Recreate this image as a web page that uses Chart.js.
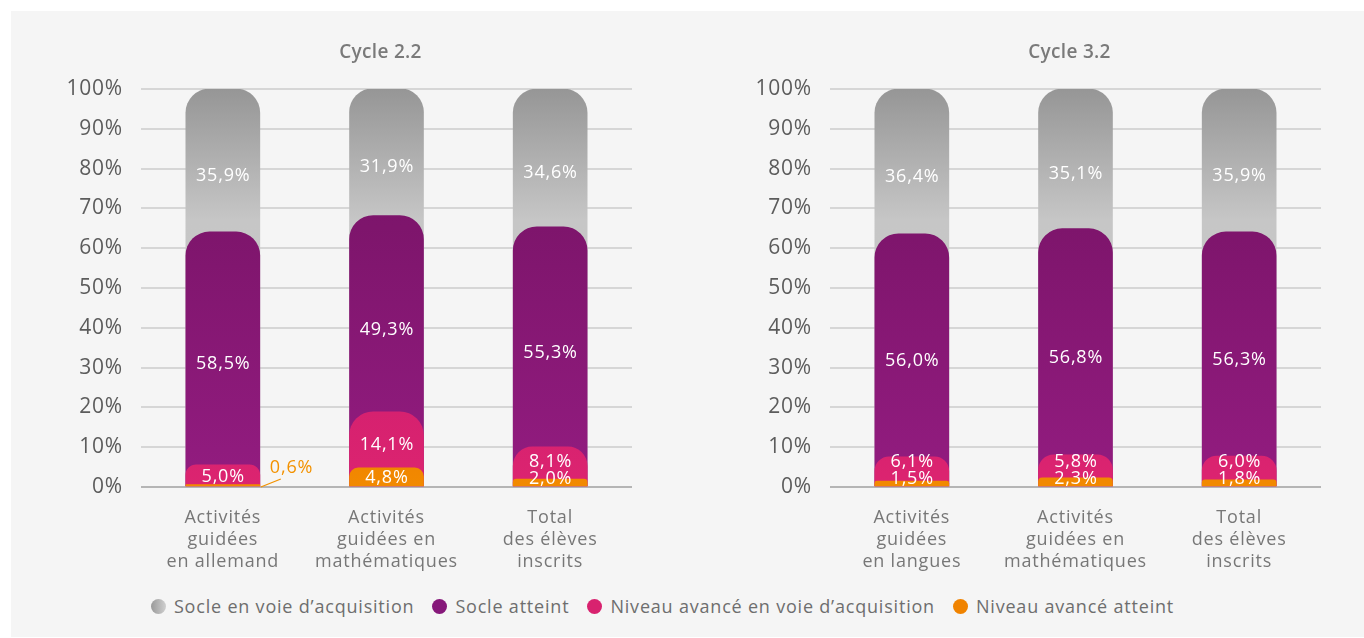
<!DOCTYPE html>
<html>
<head>
<meta charset="utf-8">
<script src="https://cdn.jsdelivr.net/npm/chart.js@4.4.1/dist/chart.umd.min.js"></script>
<style>
  html, body { margin: 0; padding: 0; background: #ffffff; width: 1364px; height: 638px; overflow: hidden; font-family: "Open Sans", Lato, sans-serif; }
  #panel { position: absolute; left: 11px; top: 11px; width: 1353px; height: 626px; background: #f5f5f5; }
  #c1 { position: absolute; left: 0; top: 0; }
  #c2 { position: absolute; left: 689px; top: 0; }
  #legend { position: absolute; left: 0; top: 594px; width: 1325px; display: flex; justify-content: center; align-items: center; font-size: 18px; letter-spacing: 0.8px; color: #6e6e6e; }
  .item { display: flex; align-items: center; margin: 0 9px; }
  .dot { width: 15px; height: 15px; border-radius: 50%; margin-right: 8px; }
</style>
</head>
<body>
<div id="panel"></div>
<canvas id="c1" width="689" height="590"></canvas>
<canvas id="c2" width="675" height="590"></canvas>
<div id="legend"></div>
<script>
// ---- Data ----
const seriesNames = ['Socle en voie d’acquisition', 'Socle atteint', 'Niveau avancé en voie d’acquisition', 'Niveau avancé atteint'];
const cycle22Title = 'Cycle 2.2';
const cycle32Title = 'Cycle 3.2';
const cycle22Categories = [['Activités', 'guidées', 'en allemand'], ['Activités', 'guidées en', 'mathématiques'], ['Total', 'des élèves', 'inscrits']];
const cycle32Categories = [['Activités', 'guidées', 'en langues'], ['Activités', 'guidées en', 'mathématiques'], ['Total', 'des élèves', 'inscrits']];
const c22SocleEnVoie = [35.9, 31.9, 34.6];
const c22SocleAtteint = [58.5, 49.3, 55.3];
const c22AvanceEnVoie = [5.0, 14.1, 8.1];
const c22AvanceAtteint = [0.6, 4.8, 2.0];
const c32SocleEnVoie = [36.4, 35.1, 35.9];
const c32SocleAtteint = [56.0, 56.8, 56.3];
const c32AvanceEnVoie = [6.1, 5.8, 6.0];
const c32AvanceAtteint = [1.5, 2.3, 1.8];
const yTickValues = [0, 10, 20, 30, 40, 50, 60, 70, 80, 90, 100];

// ---- Styling ----
const FONT = '"Open Sans", Lato, sans-serif';
const legendColors = [
  'linear-gradient(90deg, #9a9a9a, #cfcfcf)',
  '#86187a',
  '#d8226f',
  '#f08300'
];

function gradFor(chart, kind) {
  const a = chart.chartArea;
  if (!a) return '#999';
  const c = chart.ctx;
  const h = a.bottom - a.top;
  let g;
  if (kind === 'gray') {
    g = c.createLinearGradient(0, a.top, 0, a.bottom);
    g.addColorStop(0, '#969696');
    g.addColorStop(0.33, '#c6c6c6');
    g.addColorStop(1, '#c8c8c8');
  } else if (kind === 'purple') {
    g = c.createLinearGradient(0, a.top, 0, a.bottom);
    g.addColorStop(0, '#78136a');
    g.addColorStop(0.35, '#7e156c');
    g.addColorStop(1, '#931c80');
  } else if (kind === 'pink') {
    g = c.createLinearGradient(0, a.top + h * 0.75, 0, a.bottom);
    g.addColorStop(0, '#d4206f');
    g.addColorStop(1, '#dc2470');
  } else {
    g = c.createLinearGradient(0, a.top + h * 0.85, 0, a.bottom);
    g.addColorStop(0, '#ee7f00');
    g.addColorStop(1, '#f28a00');
  }
  return g;
}

function fmt(v) { return v.toFixed(1).replace('.', ',') + '%'; }

function cumulate(parts) { // parts bottom-up
  const out = [];
  let run = parts[0].map(() => 0);
  parts.forEach(p => { run = run.map((r, i) => r + p[i]); out.push(run.slice()); });
  return out;
}

const spacingPlugin = {
  id: 'spacing',
  beforeDraw(chart) { chart.ctx.letterSpacing = '0.8px'; }
};

const segLabelPlugin = {
  id: 'segLabels',
  afterDatasetsDraw(chart) {
    const parts = chart.options.plugins.segLabels.parts; // bottom-up: orange, pink, purple, gray
    const ys = chart.scales.y;
    const zero = ys.getPixelForValue(0);
    const ctx = chart.ctx;
    const offsets = [0, 5, 16, 15];
    ctx.save();
    ctx.letterSpacing = '0.8px';
    ctx.font = '18px ' + FONT;
    ctx.textAlign = 'center';
    ctx.textBaseline = 'middle';
    chart.data.labels.forEach((_, i) => {
      const bar = chart.getDatasetMeta(0).data[i];
      const x = bar.x + 0.4;
      const right = bar.x + bar.width / 2;
      let lower = 0;
      let orangeY = null;
      parts.forEach((arr, k) => {
        const v = arr[i];
        const upper = lower + v;
        let y = ys.getPixelForValue((lower + upper) / 2) + offsets[k];
        if (k === 0) {
          if (v < 1) {
            ctx.strokeStyle = '#f39200';
            ctx.lineWidth = 1.3;
            ctx.beginPath();
            ctx.moveTo(right + 1, zero);
            ctx.lineTo(right + 21, zero - 8);
            ctx.stroke();
            ctx.fillStyle = '#f39200';
            ctx.textAlign = 'left';
            ctx.fillText(fmt(v), right + 10, zero - 19);
            ctx.textAlign = 'center';
          } else {
            y = Math.min(y, zero - 8);
            orangeY = y;
            ctx.fillStyle = '#ffffff';
            ctx.fillText(fmt(v), x, y);
          }
        } else {
          if (k === 1) {
            y = Math.min(y, zero - 10);
            if (orangeY !== null) y = Math.min(y, orangeY - 17);
          }
          ctx.fillStyle = '#ffffff';
          ctx.fillText(fmt(v), x, y);
        }
        lower = upper;
      });
    });
    ctx.restore();
  }
};

const titlePlugin = {
  id: 'centerTitle',
  afterDraw(chart) {
    const a = chart.chartArea;
    const ctx = chart.ctx;
    ctx.save();
    ctx.letterSpacing = '0.3px';
    ctx.font = '600 19px ' + FONT;
    ctx.fillStyle = '#7a7a7a';
    ctx.textAlign = 'center';
    ctx.textBaseline = 'middle';
    ctx.fillText(chart.options.plugins.centerTitle.text, (a.left + a.right) / 2 - 6, 53);
    ctx.restore();
  }
};

function makeChart(canvasId, title, categories, socleEnVoie, socleAtteint, avanceEnVoie, avanceAtteint, padRight) {
  const bottomUp = [avanceAtteint, avanceEnVoie, socleAtteint, socleEnVoie];
  const cum = cumulate(bottomUp);
  const kinds = ['orange', 'pink', 'purple', 'gray'];
  const names = [seriesNames[3], seriesNames[2], seriesNames[1], seriesNames[0]];
  const datasets = cum.map((d, k) => ({
    label: names[k],
    data: d,
    grouped: false,
    barThickness: 74,
    borderRadius: { topLeft: 24, topRight: 24, bottomLeft: 0, bottomRight: 0 },
    borderSkipped: 'start',
    backgroundColor: (c) => gradFor(c.chart, kinds[k])
  }));
  return new Chart(document.getElementById(canvasId), {
    type: 'bar',
    data: { labels: categories, datasets },
    options: {
      responsive: false,
      animation: false,
      devicePixelRatio: 1,
      layout: { padding: { top: 89, left: 0, right: padRight, bottom: 0 } },
      plugins: {
        legend: { display: false },
        tooltip: { enabled: false },
        segLabels: { parts: bottomUp },
        centerTitle: { text: title }
      },
      scales: {
        x: {
          grid: { display: false, drawTicks: false },
          border: { display: false },
          ticks: { font: { family: FONT, size: 18, lineHeight: 1.22 }, color: '#777777', padding: 20, maxRotation: 0, autoSkip: false },
          afterFit: (s) => { s.height = 103; }
        },
        y: {
          min: 0, max: 100,
          afterBuildTicks: (s) => { s.ticks = yTickValues.map(v => ({ value: v })); },
          grid: {
            drawTicks: false,
            lineWidth: 2,
            color: (c) => (c.tick && c.tick.value === 0) ? '#b5b5b5' : '#d6d6d6'
          },
          border: { display: false },
          ticks: { font: { family: FONT, size: 21 }, color: '#5c5c5c', padding: 18, callback: (v) => v + '%' },
          afterFit: (s) => { s.width = 141; }
        }
      }
    },
    plugins: [spacingPlugin, segLabelPlugin, titlePlugin]
  });
}

makeChart('c1', cycle22Title, cycle22Categories, c22SocleEnVoie, c22SocleAtteint, c22AvanceEnVoie, c22AvanceAtteint, 57);
makeChart('c2', cycle32Title, cycle32Categories, c32SocleEnVoie, c32SocleAtteint, c32AvanceEnVoie, c32AvanceAtteint, 43);

// ---- HTML legend ----
const legend = document.getElementById('legend');
seriesNames.forEach((n, i) => {
  const it = document.createElement('div');
  it.className = 'item';
  const d = document.createElement('span');
  d.className = 'dot';
  d.style.background = legendColors[i];
  const t = document.createElement('span');
  t.textContent = n;
  it.appendChild(d); it.appendChild(t);
  legend.appendChild(it);
});
</script>
</body>
</html>
